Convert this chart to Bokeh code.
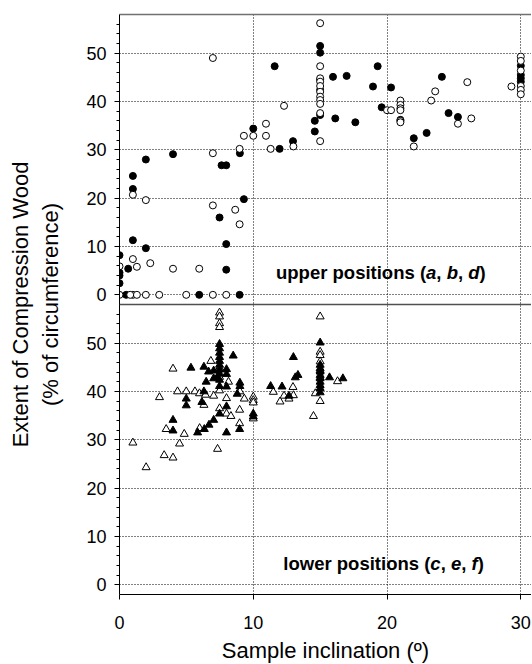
from bokeh.plotting import figure
from bokeh.models import Range1d, FixedTicker, LinearAxis, Span, Label
from bokeh.embed import file_html
from bokeh.resources import INLINE

# ---------------- data ----------------
# upper positions (a, b, d): circles
upper_filled_x = [0, 0, 0, 0, 0.65, 0.5, 1.0, 1.0, 1.0, 1.97, 1.97, 4.0, 5.96, 7.48, 7.63, 7.98,
                  7.98, 7.98, 8.98, 9.0, 9.3, 10.0, 11.97, 11.6, 12.97, 14.6, 14.6, 15, 15, 15, 15,
                  15, 15.96, 16.98, 16.13, 17.63, 19.3, 18.95, 20.3, 19.6, 21, 22.0, 22.96, 24.1,
                  24.6, 25.3, 30, 30, 30, 30]
upper_filled_y = [8.2, 4.6, 4.0, 2.4, 5.4, 0, 11.3, 21.9, 24.6, 9.65, 28.0, 29.1, 0, 16.0, 26.8, 26.8,
                  10.5, 5.2, 0, 29.3, 19.8, 34.4, 30.2, 47.3, 31.8, 36.0, 33.8, 51.5, 50.1, 44.5, 42.4,
                  37.2, 45.1, 45.3, 36.5, 35.7, 47.3, 43.1, 42.9, 38.8, 36.2, 32.4, 33.5, 45.1,
                  37.6, 36.8, 47.4, 45.5, 44.8, 44.1]
upper_open_x = [0, 1.0, 1.3, 0.8, 1.97, 2.97, 4.99, 6.98, 7.98, 0, 1.3, 1.0, 2.3, 4.0, 5.96, 1.0, 1.97,
                6.98, 8.65, 8.98, 6.98, 6.98, 8.98, 9.3, 10.0, 10.95, 10.95, 11.3, 12.3, 13.0,
                15, 15, 15, 15, 15, 15, 15, 15, 15, 15, 15, 20.0, 20.3, 21, 21, 21, 21, 21, 21,
                22.0, 23.3, 23.6, 25.3, 26.0, 26.3, 29.3, 30, 30, 30, 30, 30, 30]
upper_open_y = [0, 0, 0, 0, 0, 0, 0, 0, 0, 5.9, 5.8, 7.4, 6.55, 5.4, 5.4, 20.7, 19.6,
                18.5, 17.6, 14.6, 29.3, 49.0, 30.2, 32.9, 32.9, 35.4, 32.9, 30.2, 39.1, 30.7,
                56.2, 47.3, 44.8, 44.1, 43.2, 42.0, 41.0, 40.3, 39.5, 37.6, 31.8, 38.2, 38.2,
                40.2, 39.3, 38.6, 38.2, 36.0, 35.7, 30.7, 40.2, 42.1, 35.4, 44.0, 36.5, 43.1,
                49.3, 48.4, 46.4, 43.2, 42.4, 41.5]

# lower positions (c, e, f): triangles
lower_filled_x = [7.48, 7.48, 7.48, 7.48, 7.48, 7.48, 7.48, 7.48, 7.48, 7.48,
                  8.5, 5.34, 6.31, 6.66, 7.04, 8.0, 8.0, 7.04, 7.3, 6.48, 8.0, 9.0, 9.0, 8.8,
                  6.31, 4.99, 4.99, 6.16, 8.0, 7.48, 7.04, 6.69, 6.34, 5.84, 8.98, 8.0, 4.0, 4.0,
                  10, 10, 11.3, 12.15, 12.67, 13.0, 13.14, 13.34,
                  15, 15, 15, 15, 15, 15, 15, 15, 15, 15, 15.7, 16.7]
lower_filled_y = [49.8, 48.9, 48.0, 47.1, 46.3, 45.5, 44.5, 43.7, 42.4, 41.1,
                  47.4, 44.9, 45.1, 44.1, 44.3, 44.6, 43.6, 42.7, 42.9, 42.0, 41.0, 41.8, 41.1, 39.5,
                  40.0, 38.5, 37.1, 37.8, 36.9, 35.4, 34.1, 33.1, 32.2, 31.5, 32.2, 31.5, 34.1, 31.9,
                  35.4, 34.8, 41.1, 41.0, 39.1, 47.1, 42.9, 43.4,
                  50.1, 45.5, 44.8, 44.1, 43.4, 42.7, 42.0, 41.3, 40.7, 39.8, 42.9, 42.7]
lower_open_x = [7.48, 7.48, 7.48, 7.48, 7.48, 7.48, 6.83, 4.0, 8.15, 9.0, 9.33, 4.34, 4.99, 5.64,
                5.98, 6.43, 7.04, 7.48, 8.0, 2.99, 6.31, 7.48, 8.0, 8.33, 8.98, 5.99, 8.98, 3.49,
                4.84, 1.0, 4.49, 7.33, 1.99, 3.34, 4.0, 10, 10, 10, 10, 11.5, 12.3, 12.0, 12.67,
                12.97, 13.0, 14.5, 14.64, 15, 15, 15, 15, 15, 15, 15, 16.3]
lower_open_y = [56.3, 55.5, 54.1, 53.3, 44.9, 43.0, 46.3, 44.7, 42.0, 40.0, 38.5, 40.0, 40.0, 40.0,
                39.6, 39.3, 39.1, 40.2, 38.6, 38.8, 37.2, 36.5, 35.4, 34.9, 36.2, 32.4, 33.4, 32.2,
                31.2, 29.4, 29.2, 28.1, 24.3, 26.8, 26.3, 38.9, 38.2, 37.7, 34.4, 39.9, 39.1, 37.9, 38.5,
                40.9, 39.2, 34.9, 39.6, 55.5, 48.2, 47.5, 46.2, 44.4, 42.9, 38.0, 42.1]

x_ticks = [0, 10, 20, 30]
y_ticks = [0, 10, 20, 30, 40, 50]
x_title = "Sample inclination (º)"
y_title = "Extent of Compression Wood\n(% of circumference)"
upper_text = [("upper positions (", "bold"), ("a", "bold italic"), (", ", "bold"),
              ("b", "bold italic"), (", ", "bold"), ("d", "bold italic"), (")", "bold")]
lower_text = [("lower positions (", "bold"), ("c", "bold italic"), (", ", "bold"),
              ("e", "bold italic"), (", ", "bold"), ("f", "bold italic"), (")", "bold")]

# ---------------- layout constants ----------------
PANEL_SPAN = 60          # each panel covers -2 .. 58
FONT = "Liberation Sans"
TICK_FS = "18px"
TITLE_FS = "22px"
NOTE_FS = 18.5

p = figure(x_range=Range1d(0, 30.8), y_range=Range1d(-2, 118),
           frame_width=412, frame_height=580,
           min_border_left=119, min_border_right=0, min_border_top=14, min_border_bottom=0,
           output_backend="svg", toolbar_location=None)
p.extra_y_ranges = {"upper": Range1d(-2 - PANEL_SPAN, 58)}
p.outline_line_color = None
p.background_fill_color = "white"
p.border_fill_color = "white"

# x axis
p.xaxis.ticker = FixedTicker(ticks=x_ticks, minor_ticks=[])
p.xaxis.major_tick_in = 0
p.xaxis.major_tick_out = 5
p.xaxis.minor_tick_in = 0
p.xaxis.minor_tick_out = 0
p.xaxis.axis_line_color = "black"
p.xaxis.major_tick_line_color = "black"
p.xaxis.major_label_text_font = FONT
p.xaxis.major_label_text_font_size = TICK_FS
p.xaxis.major_label_text_color = "black"
p.xaxis.major_label_standoff = 16
p.xaxis.axis_label = x_title
p.xaxis.axis_label_text_font = FONT
p.xaxis.axis_label_text_font_size = TITLE_FS
p.xaxis.axis_label_text_font_style = "normal"
p.xaxis.axis_label_text_color = "black"
p.xaxis.axis_label_standoff = 6

# y axis: both panels on one axis
major = y_ticks + [t + PANEL_SPAN for t in y_ticks]
minor = [m for m in range(2, 57, 2) if m % 10] + [m + PANEL_SPAN for m in range(2, 57, 2) if m % 10]
overrides = {t: str(t) for t in y_ticks}
overrides.update({t + PANEL_SPAN: str(t) for t in y_ticks})
p.yaxis.ticker = FixedTicker(ticks=major, minor_ticks=minor)
p.yaxis.major_label_overrides = overrides
p.yaxis.major_tick_in = 0
p.yaxis.major_tick_out = 5
p.yaxis.minor_tick_in = 0
p.yaxis.minor_tick_out = 3
p.yaxis.axis_line_color = "black"
p.yaxis.major_tick_line_color = "black"
p.yaxis.minor_tick_line_color = "black"
p.yaxis.major_label_text_font = FONT
p.yaxis.major_label_text_font_size = TICK_FS
p.yaxis.major_label_text_color = "black"
p.yaxis.major_label_standoff = 8
p.yaxis.axis_label = y_title
p.yaxis.axis_label_text_font = FONT
p.yaxis.axis_label_text_font_size = TITLE_FS
p.yaxis.axis_label_text_font_style = "normal"
p.yaxis.axis_label_text_color = "black"
p.yaxis.axis_label_standoff = 20

# top border as an empty axis
top_axis = LinearAxis(ticker=FixedTicker(ticks=[]), axis_line_color="#707070", axis_line_width=1.5,
                      major_tick_line_color=None, minor_tick_line_color=None,
                      major_label_text_font_size="0px", major_label_standoff=0)
p.add_layout(top_axis, "above")

# separator between panels
p.add_layout(Span(location=58, dimension="width", line_color="#505050", line_width=1.5))

# grids
for g in (p.xgrid, p.ygrid):
    g.grid_line_color = "black"
    g.grid_line_dash = "1 2"
    g.grid_line_width = 1

# marks
p.scatter(upper_filled_x, upper_filled_y, marker="circle", size=7, fill_color="black",
          line_color="black", y_range_name="upper")
p.scatter(upper_open_x, upper_open_y, marker="circle", size=7, fill_color="white",
          line_color="black", line_width=1, y_range_name="upper")
p.scatter(lower_open_x, lower_open_y, marker="triangle", size=8, fill_color="white",
          line_color="black", line_width=1)
p.scatter(lower_filled_x, lower_filled_y, marker="triangle", size=8, fill_color="black",
          line_color="black")

# annotations with mixed bold / bold-italic text (Arial-bold metrics)
W = {" ": 278, "(": 333, ")": 333, ",": 278, "a": 556, "b": 611, "c": 556, "d": 611, "e": 556,
     "f": 333, "i": 278, "l": 278, "n": 611, "o": 611, "p": 611, "r": 389, "s": 556, "t": 333,
     "u": 611, "w": 778}


def add_note(segments, x, y, range_name):
    off = 0.0
    for txt, style in segments:
        kw = dict(x=x, y=y, x_offset=off, text=txt, text_font=FONT, text_font_size=f"{NOTE_FS}px",
                  text_font_style=style, text_baseline="middle", text_align="left",
                  text_color="black")
        if range_name:
            kw["y_range_name"] = range_name
        p.add_layout(Label(**kw))
        off += sum(W.get(c, 556) for c in txt) / 1000.0 * NOTE_FS


add_note(upper_text, 11.7, 4.7, "upper")
add_note(lower_text, 12.25, 4.5, None)

open("out.html", "w").write(file_html(p, INLINE))
